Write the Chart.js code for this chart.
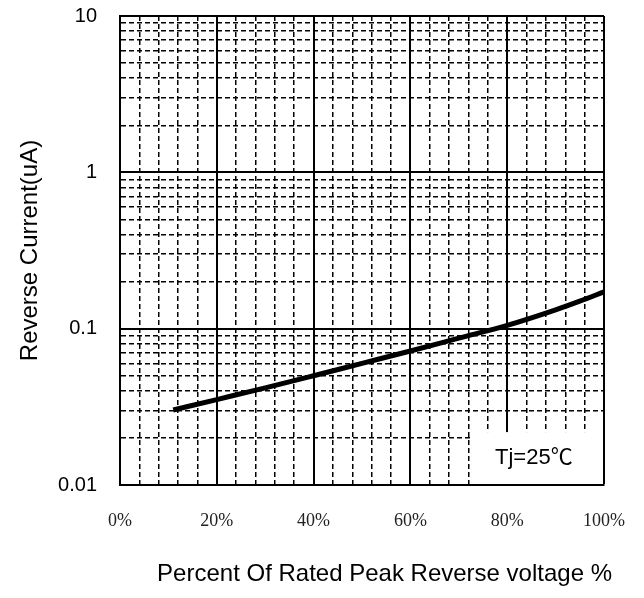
<!DOCTYPE html>
<html lang="en">
<head>
  <meta charset="UTF-8">
  <title>Reverse Current vs Percent Of Rated Peak Reverse Voltage</title>
  <style>
    body {
      margin: 0;
      padding: 0;
      background-color: #fff;
    }
    .chart-container {
      width: 644px;
      height: 598px;
    }
  </style>
</head>
<body>
  <div class="chart-container">
    <canvas id="reverse-chart"></canvas>
  </div>

  <script src="https://cdn.jsdelivr.net/npm/chart.js"></script>
  <script>
    // Curve
    const percentVoltage = [11, 20, 30, 40, 50, 60, 70, 80, 90, 95, 100];
    const reverseCurrent = [0.0302, 0.0352, 0.0418, 0.050, 0.060, 0.072, 0.087, 0.105, 0.132, 0.150, 0.172];

    // Axis ticks and labels
    const xTicks = [];
    for (let v = 0; v <= 100; v += 4) xTicks.push(v);
    const xMajorTicks = [0, 20, 40, 60, 80, 100];
    const xTickLabels = ['0%', '20%', '40%', '60%', '80%', '100%'];

    const yDecades = [0.01, 0.1, 1];
    const yTickLabels = ['0.01', '0.1', '1', '10'];
    const yMajorTicks = [0.01, 0.1, 1, 10];

    const noteText = 'Tj=25\u2103';

    const yTicks = [];
    yDecades.forEach(d => {
      for (let m = 1; m < 10; m++) yTicks.push(+(d * m).toPrecision(3));
    });
    yTicks.push(10);

    const isMajor = (list, v) => list.some(m => Math.abs(m - v) < 1e-9);

    const gridWidth = list => ctx => (ctx.tick && isMajor(list, ctx.tick.value) ? 2 : 1.5);
    const gridDash = list => ctx => (ctx.tick && !isMajor(list, ctx.tick.value) ? [5, 3] : []);

    // White box with the temperature note in the lower right corner
    const notePlugin = {
      id: 'note',
      beforeDatasetsDraw(chart) {
        const { ctx, scales: { x, y } } = chart;
        const left = x.getPixelForValue(72.7);
        const top = y.getPixelForValue(0.0218);
        ctx.save();
        ctx.fillStyle = '#fff';
        ctx.fillRect(left, top, x.right - 1 - left, y.bottom - 1 - top);
        ctx.fillStyle = '#000';
        ctx.font = '22px "Liberation Sans", "Noto Sans CJK SC", Arial, sans-serif';
        ctx.textAlign = 'center';
        ctx.textBaseline = 'middle';
        ctx.fillText(noteText, x.getPixelForValue(85.5), y.getPixelForValue(0.0148));
        ctx.restore();
      }
    };

    const ctx = document.getElementById('reverse-chart').getContext('2d');
    const chart = new Chart(ctx, {
      type: 'line',
      data: {
        datasets: [{
          data: percentVoltage.map((v, i) => ({ x: v, y: reverseCurrent[i] })),
          borderColor: '#000',
          borderWidth: 5,
          pointRadius: 0,
          cubicInterpolationMode: 'monotone',
          fill: false
        }]
      },
      options: {
        responsive: true,
        maintainAspectRatio: false,
        animation: false,
        layout: {
          padding: { left: 0, right: 32, top: 16, bottom: 0 }
        },
        plugins: {
          legend: { display: false },
          tooltip: { enabled: false },
          title: {
            display: true,
            position: 'bottom',
            align: 'end',
            text: 'Percent Of Rated Peak Reverse voltage %',
            color: '#000',
            font: { family: '"Liberation Sans", Arial, sans-serif', size: 24, weight: 'normal' },
            padding: { top: 0, bottom: 9 }
          }
        },
        scales: {
          x: {
            type: 'linear',
            min: 0,
            max: 100,
            afterBuildTicks: scale => {
              scale.ticks = xTicks.map(v => ({ value: v }));
            },
            afterFit: scale => {
              scale.height = 75.2;
              scale.paddingLeft = 0;
              scale.paddingRight = 40;
            },
            ticks: {
              autoSkip: false,
              maxRotation: 0,
              padding: 25,
              color: '#222',
              font: { family: '"Liberation Serif", "Times New Roman", serif', size: 18 },
              callback: value => {
                const i = xMajorTicks.indexOf(value);
                return i >= 0 ? xTickLabels[i] : '';
              }
            },
            grid: {
              color: '#000',
              lineWidth: gridWidth([20, 40, 60, 80, 100]),
              drawTicks: false
            },
            border: {
              color: '#000',
              width: 2,
              dash: gridDash([20, 40, 60, 80, 100])
            }
          },
          y: {
            type: 'logarithmic',
            min: 0.01,
            max: 10,
            afterBuildTicks: scale => {
              scale.ticks = yTicks.map(v => ({ value: v }));
            },
            afterFit: scale => {
              scale.width = 120;
              scale.paddingTop = 0;
              scale.paddingBottom = 0;
            },
            ticks: {
              autoSkip: false,
              padding: 23,
              color: '#000',
              font: { family: '"Liberation Sans", Arial, sans-serif', size: 20 },
              callback: value => {
                const i = yMajorTicks.findIndex(m => Math.abs(m - value) < 1e-9);
                return i >= 0 ? yTickLabels[i] : '';
              }
            },
            grid: {
              color: '#000',
              lineWidth: gridWidth(yMajorTicks),
              drawTicks: false
            },
            border: {
              color: '#000',
              width: 2,
              dash: gridDash(yMajorTicks)
            },
            title: {
              display: true,
              text: 'Reverse Current(uA)',
              color: '#000',
              font: { family: '"Liberation Sans", Arial, sans-serif', size: 24 },
              padding: { top: 16, bottom: 0 }
            }
          }
        }
      },
      plugins: [notePlugin]
    });
  </script>
</body>
</html>
